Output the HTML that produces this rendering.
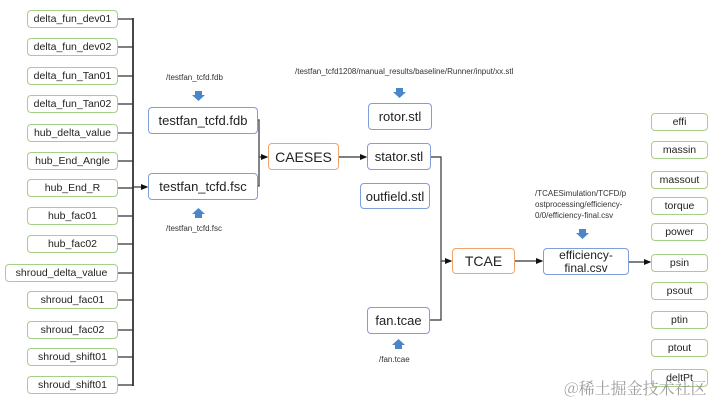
<!DOCTYPE html>
<html><head><meta charset="utf-8"><style>
body{margin:0;width:720px;height:400px;background:#fff;position:relative;overflow:hidden;font-family:"Liberation Sans","Noto Sans CJK SC",sans-serif;}
.b{position:absolute;box-sizing:border-box;border-radius:4px;display:flex;align-items:center;justify-content:center;text-align:center;color:#222;background:#fff;}
.g{border:1.5px solid #a6cf8a;font-size:10.5px;height:18px;}
.u{border:1.5px solid #7f9fd8;font-size:13px;}
.o{border:1.5px solid #f0a36a;font-size:14px;}
.t{position:absolute;font-size:8px;color:#333;white-space:nowrap;}
svg{position:absolute;left:0;top:0;}
</style></head><body>
<svg width="720" height="400">
<defs><marker id="a" markerWidth="6" markerHeight="6" refX="5" refY="3" orient="auto"><path d="M0,0.5L6,3L0,5.5z" fill="#111"/></marker></defs>
<g stroke="#333" stroke-width="1.2" fill="none">
<path d="M118,19H133M118,47H133M118,76H133M118,104H133M118,133H133M118,161H133M118,188H133M118,216H133M118,244H133M118,273H133M118,300H133M118,330H133M118,357H133M118,385H133"/>
<path d="M133,18V386" stroke-width="1.8"/>
<path d="M133,187H147" marker-end="url(#a)"/>
<path d="M258,120H259V186H258M259,157H267" marker-end="url(#a)"/>
<path d="M339,157H366" marker-end="url(#a)"/>
<path d="M431,157H441V320H430M441,261H451" marker-end="url(#a)"/>
<path d="M515,261H542" marker-end="url(#a)"/>
<path d="M629,262H650" marker-end="url(#a)"/>
</g>
<g fill="#4a86c8">
<path d="M195,91h7v4h3l-6.5,6l-6.5,-6h3z"/>
<path d="M195,218h7v-4h3l-6.5,-6l-6.5,6h3z"/>
<path d="M396,88h7v4h3l-6.5,6l-6.5,-6h3z"/>
<path d="M579,229h7v4h3l-6.5,6l-6.5,-6h3z"/>
<path d="M395,349h7v-4h3l-6.5,-6l-6.5,6h3z"/>
</g>
</svg>
<div class="b g" style="left:27px;top:10px;width:91px">delta_fun_dev01</div>
<div class="b g" style="left:27px;top:38px;width:91px">delta_fun_dev02</div>
<div class="b g" style="left:27px;top:67px;width:91px">delta_fun_Tan01</div>
<div class="b g" style="left:27px;top:95px;width:91px">delta_fun_Tan02</div>
<div class="b g" style="left:27px;top:124px;width:91px">hub_delta_value</div>
<div class="b g" style="left:27px;top:152px;width:91px">hub_End_Angle</div>
<div class="b g" style="left:27px;top:179px;width:91px">hub_End_R</div>
<div class="b g" style="left:27px;top:207px;width:91px">hub_fac01</div>
<div class="b g" style="left:27px;top:235px;width:91px">hub_fac02</div>
<div class="b g" style="left:5px;top:264px;width:113px">shroud_delta_value</div>
<div class="b g" style="left:27px;top:291px;width:91px">shroud_fac01</div>
<div class="b g" style="left:27px;top:321px;width:91px">shroud_fac02</div>
<div class="b g" style="left:27px;top:348px;width:91px">shroud_shift01</div>
<div class="b g" style="left:27px;top:376px;width:91px">shroud_shift01</div>
<div class="t" style="left:166px;top:73px">/testfan_tcfd.fdb</div>
<div class="b u" style="left:148px;top:107px;width:110px;height:27px">testfan_tcfd.fdb</div>
<div class="b u" style="left:148px;top:173px;width:110px;height:27px">testfan_tcfd.fsc</div>
<div class="t" style="left:166px;top:224px">/testfan_tcfd.fsc</div>
<div class="b o" style="left:268px;top:143px;width:71px;height:27px">CAESES</div>
<div class="t" style="left:295px;top:67px">/testfan_tcfd1208/manual_results/baseline/Runner/input/xx.stl</div>
<div class="b u" style="left:368px;top:103px;width:64px;height:27px">rotor.stl</div>
<div class="b u" style="left:367px;top:143px;width:64px;height:27px">stator.stl</div>
<div class="b u" style="left:360px;top:183px;width:70px;height:26px">outfield.stl</div>
<div class="b u" style="left:367px;top:307px;width:63px;height:27px">fan.tcae</div>
<div class="t" style="left:379px;top:355px">/fan.tcae</div>
<div class="b o" style="left:452px;top:248px;width:63px;height:26px">TCAE</div>
<div class="t" style="left:535px;top:188px;line-height:11px">/TCAESimulation/TCFD/p<br>ostprocessing/efficiency-<br>0/0/efficiency-final.csv</div>
<div class="b u" style="left:543px;top:248px;width:86px;height:27px;font-size:12px;line-height:13px">efficiency-<br>final.csv</div>
<div class="b g" style="left:651px;top:113px;width:57px">effi</div>
<div class="b g" style="left:651px;top:141px;width:57px">massin</div>
<div class="b g" style="left:651px;top:171px;width:57px">massout</div>
<div class="b g" style="left:651px;top:197px;width:57px">torque</div>
<div class="b g" style="left:651px;top:223px;width:57px">power</div>
<div class="b g" style="left:651px;top:254px;width:57px">psin</div>
<div class="b g" style="left:651px;top:282px;width:57px">psout</div>
<div class="b g" style="left:651px;top:311px;width:57px">ptin</div>
<div class="b g" style="left:651px;top:339px;width:57px">ptout</div>
<div class="b g" style="left:651px;top:369px;width:57px">deltPt</div>
<div style="position:absolute;left:564px;top:376px;font-size:16px;color:rgba(140,140,140,0.85);font-family:'Noto Serif CJK SC',serif;white-space:nowrap">@稀土掘金技术社区</div>
</body></html>
